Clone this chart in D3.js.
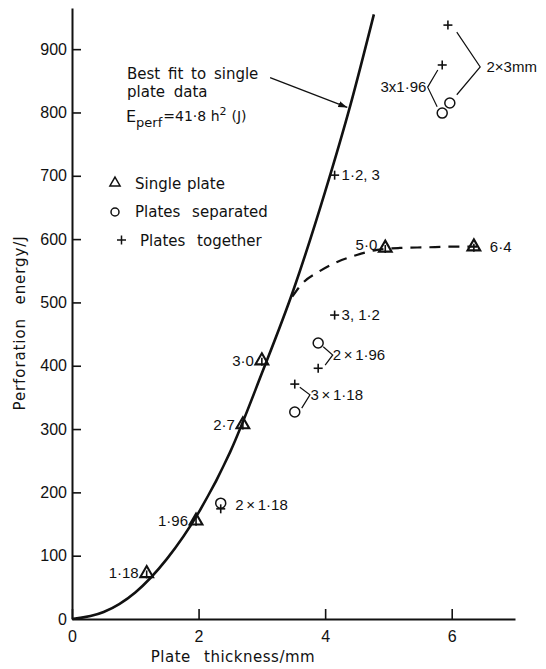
<!DOCTYPE html>
<html>
<head>
<meta charset="utf-8">
<script src="https://cdn.jsdelivr.net/npm/d3@7"></script>
<style>
  body { margin: 0; background: #fff; }
  svg text { font-family: "Liberation Sans", Arial, sans-serif; fill: #111; }
  svg text.word { font-family: "DejaVu Sans", sans-serif; }
</style>
</head>
<body>
<svg id="chart" width="546" height="669"></svg>
<script>
// axis ticks
const xTicks = [0, 2, 4, 6];
const yTicks = [0, 100, 200, 300, 400, 500, 600, 700, 800, 900];

// single plate data (thickness mm, energy J, label)
const singleH = [1.18, 1.96, 2.7, 3.0, 4.95, 6.35];
const singleE = [72, 155, 307, 408, 586, 588];
const singleLab = ["1·18", "1·96", "2·7", "3·0", "5·0", "6·4"];

// plates separated
const sepH = [2.35, 3.52, 3.89, 5.85, 5.97];
const sepE = [183, 327, 436, 799, 815];

// plates together
const togH = [2.35, 3.52, 3.89, 4.15, 4.15, 5.85, 5.94];
const togE = [174, 371, 396, 480, 701, 875, 938];

// best fit curve
const fitH = [0, 0.5, 1.0, 1.5, 2.0, 2.5, 3.0, 3.5, 4.0, 4.4, 4.77];
const fitE = [0, 11, 42, 95, 168, 264, 388, 520, 675, 812, 955];

// dashed trend through multi-plate points
const dashH = [3.48, 3.65, 3.89, 4.19, 4.5, 4.82, 5.18, 5.6, 6.0, 6.4];
const dashE = [509, 531, 548, 564, 575, 583, 586, 587, 588, 588];

// labels for combinations
const comboText = ["2 × 1·18", "3 × 1·18", "2 × 1·96", "3, 1·2", "1·2, 3", "3x1·96", "2×3mm"];
const comboH = [2.58, 3.77, 4.12, 4.26, 4.26, 5.6, 6.55];
const comboE = [180, 354, 417, 480, 701, 840, 872];

// bracket lines [h1,e1,h2,e2,h3,e3]
const brackets = [
  [3.60, 366, 3.76, 354, 3.63, 333],
  [3.97, 430, 4.12, 417, 4.00, 401],
  [5.78, 867, 5.62, 840, 5.77, 809],
  [6.08, 927, 6.45, 872, 6.08, 828]
];

const svg = d3.select("#chart");
const x = d3.scaleLinear().domain([0, 7]).range([72, 515]);
const y = d3.scaleLinear().domain([0, 965]).range([619, 8]);

// axes
const xAxis = svg.append("g").attr("transform", `translate(0,${y(0)})`)
  .call(d3.axisBottom(x).tickValues(xTicks).tickSizeInner(-10).tickSizeOuter(0).tickPadding(8).tickFormat(d3.format("d")));
const yAxis = svg.append("g").attr("transform", `translate(${x(0)},0)`)
  .call(d3.axisLeft(y).tickValues(yTicks).tickSizeInner(-9).tickSizeOuter(0).tickPadding(5).tickFormat(d3.format("d")));
[xAxis, yAxis].forEach(a => {
  a.select(".domain").attr("stroke", "#111").attr("stroke-width", 2);
  a.selectAll(".tick line").attr("stroke", "#111").attr("stroke-width", 1.6);
  a.selectAll(".tick text").attr("font-size", 16).attr("fill", "#111")
    .style("font-family", "Liberation Sans, Arial, sans-serif");
});
xAxis.selectAll(".tick text").attr("dy", "0.95em");
yAxis.selectAll(".tick line").filter(d => d === 0).remove();

svg.append("text").attr("class", "word").attr("x", 233).attr("y", 662).attr("text-anchor", "middle")
  .attr("font-size", 15).attr("letter-spacing", 0.5).attr("word-spacing", 8)
  .text("Plate thickness/mm");
svg.append("text").attr("class", "word").attr("transform", "translate(25,323) rotate(-90)")
  .attr("text-anchor", "middle").attr("font-size", 15).attr("letter-spacing", 0.9).attr("word-spacing", 8)
  .text("Perforation energy/J");

// curves
const line = d3.line().x(d => x(d[0])).y(d => y(d[1])).curve(d3.curveMonotoneX);
svg.append("path").datum(d3.zip(fitH, fitE)).attr("d", line)
  .attr("fill", "none").attr("stroke", "#111").attr("stroke-width", 2.6);
svg.append("path").datum(d3.zip(dashH, dashE)).attr("d", line)
  .attr("fill", "none").attr("stroke", "#111").attr("stroke-width", 2.2)
  .attr("stroke-dasharray", "11,8");

// arrow from text to curve
svg.append("defs").append("marker").attr("id", "arr")
  .attr("viewBox", "0 0 10 10").attr("refX", 10).attr("refY", 5)
  .attr("markerWidth", 9).attr("markerHeight", 9).attr("orient", "auto")
  .attr("markerUnits", "userSpaceOnUse")
  .append("path").attr("d", "M0,1.5 L10,5 L0,8.5 Z").attr("fill", "#111");
const arrowPts = [[3.13, 855], [4.35, 808]];
svg.append("line")
  .attr("x1", x(arrowPts[0][0])).attr("y1", y(arrowPts[0][1]))
  .attr("x2", x(arrowPts[1][0])).attr("y2", y(arrowPts[1][1]))
  .attr("stroke", "#111").attr("stroke-width", 1.3).attr("marker-end", "url(#arr)");

// markers
const tri = d3.symbol().type(d3.symbolTriangle).size(70);
const singles = d3.zip(singleH, singleE, singleLab);
svg.selectAll(".tri").data(singles).enter().append("path")
  .attr("transform", d => `translate(${x(d[0])},${y(d[1])})`)
  .attr("d", tri).attr("fill", "none").attr("stroke", "#111").attr("stroke-width", 2.1);
svg.selectAll(".trix").data(singles).enter().append("line")
  .attr("x1", d => x(d[0])).attr("x2", d => x(d[0]))
  .attr("y1", d => y(d[1]) - 3).attr("y2", d => y(d[1]) + 5)
  .attr("stroke", "#111").attr("stroke-width", 1.6);

svg.selectAll(".circ").data(d3.zip(sepH, sepE)).enter().append("circle")
  .attr("cx", d => x(d[0])).attr("cy", d => y(d[1])).attr("r", 5)
  .attr("fill", "none").attr("stroke", "#111").attr("stroke-width", 1.5);

const plus = svg.selectAll(".plus").data(d3.zip(togH, togE)).enter().append("g")
  .attr("transform", d => `translate(${x(d[0])},${y(d[1])})`);
plus.append("line").attr("x1", -4.5).attr("x2", 4.5).attr("stroke", "#111").attr("stroke-width", 1.6);
plus.append("line").attr("y1", -4.5).attr("y2", 4.5).attr("stroke", "#111").attr("stroke-width", 1.6);

// single plate labels
svg.selectAll(".slab").data(singles).enter().append("text")
  .attr("x", (d, i) => i === 5 ? x(d[0]) + 16 : x(d[0]) - 8)
  .attr("y", (d, i) => y(d[1]) + (i === 4 ? 2 : 5))
  .attr("text-anchor", (d, i) => i === 5 ? "start" : "end")
  .attr("font-size", 15).text(d => d[2]);

// combination labels
svg.selectAll(".clab").data(d3.zip(comboH, comboE, comboText)).enter().append("text")
  .attr("x", d => x(d[0])).attr("y", d => y(d[1]) + 5)
  .attr("text-anchor", (d, i) => i === 5 ? "end" : "start")
  .attr("word-spacing", (d, i) => i < 3 ? -1.5 : 0)
  .attr("font-size", 15).text(d => d[2]);

svg.selectAll(".br").data(brackets).enter().append("polyline")
  .attr("points", b => [[b[0], b[1]], [b[2], b[3]], [b[4], b[5]]].map(p => `${x(p[0])},${y(p[1])}`).join(" "))
  .attr("fill", "none").attr("stroke", "#111").attr("stroke-width", 1.2);

// fit annotation
const note = svg.append("g").attr("font-size", 15);
note.append("text").attr("class", "word").attr("x", 127).attr("y", 79).attr("word-spacing", 3).text("Best fit to single");
note.append("text").attr("class", "word").attr("x", 127).attr("y", 97).attr("word-spacing", 4).text("plate data");
const eq = note.append("text").attr("class", "word").attr("x", 126).attr("y", 122);
eq.append("tspan").attr("font-size", 16).text("E");
eq.append("tspan").attr("font-size", 13).attr("dy", 5).text("perf");
eq.append("tspan").attr("font-size", 14).attr("dy", -6).attr("dx", 1).text("=41·8 h");
eq.append("tspan").attr("font-size", 11).attr("dy", -6).text("2");
eq.append("tspan").attr("font-size", 14).attr("dy", 6).attr("dx", 5).text("(J)");

// legend
const legend = svg.append("g").attr("font-size", 15);
const legItems = ["Single plate", "Plates separated", "Plates together"];
legItems.forEach((t, i) => {
  const ly = 183 + i * 28.5;
  legend.append("text").attr("class", "word").attr("x", i === 2 ? 140 : 135).attr("y", ly + 5.5)
    .attr("word-spacing", i === 0 ? 1 : 7).text(t);
});
legend.append("path").attr("transform", "translate(115,183)")
  .attr("d", d3.symbol().type(d3.symbolTriangle).size(45)).attr("fill", "none")
  .attr("stroke", "#111").attr("stroke-width", 1.5);
legend.append("circle").attr("cx", 115).attr("cy", 212).attr("r", 4)
  .attr("fill", "none").attr("stroke", "#111").attr("stroke-width", 1.5);
legend.append("line").attr("x1", 117).attr("x2", 126).attr("y1", 240).attr("y2", 240).attr("stroke", "#111").attr("stroke-width", 1.5);
legend.append("line").attr("x1", 121.5).attr("x2", 121.5).attr("y1", 235.5).attr("y2", 244.5).attr("stroke", "#111").attr("stroke-width", 1.5);
</script>
</body>
</html>
